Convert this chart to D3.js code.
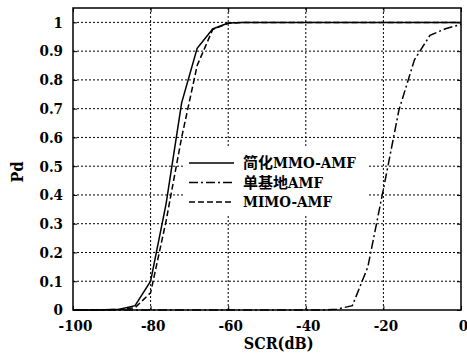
<!DOCTYPE html>
<html>
<head>
<meta charset="utf-8">
<script src="https://d3js.org/d3.v7.min.js"></script>
<style>
  body { margin: 0; background: #fff; }
  svg text { font-stretch: condensed; }
</style>
</head>
<body>
<div id="chart"></div>
<script>
// SCR grid (dB) shared by all three curves
const scr = [-100, -96, -92, -88, -84, -80, -76, -72, -68, -64, -60, -56, -52,
             -48, -44, -40, -36, -32, -28, -24, -20, -16, -12, -8, -4, 0];

// Pd values
const pdSimplified = [0, 0, 0.001, 0.003, 0.015, 0.1, 0.37, 0.72, 0.91, 0.977, 0.998, 1, 1,
                      1, 1, 1, 1, 1, 1, 1, 1, 1, 1, 1, 1, 1];
const pdMono = [0, 0, 0, 0, 0, 0, 0, 0, 0, 0, 0, 0, 0,
                0, 0, 0, 0, 0.003, 0.015, 0.15, 0.42, 0.695, 0.87, 0.955, 0.978, 0.993];
const pdMimo = [0, 0, 0, 0.002, 0.008, 0.06, 0.31, 0.6, 0.85, 0.975, 0.997, 1, 1,
                1, 1, 1, 1, 1, 1, 1, 1, 1, 1, 1, 1, 1];

const seriesNames = ["简化MMO-AMF", "单基地AMF", "MIMO-AMF"];
const xTicks = [-100, -80, -60, -40, -20, 0];
const yTicks = [0, 0.1, 0.2, 0.3, 0.4, 0.5, 0.6, 0.7, 0.8, 0.9, 1];

const margin = { top: 8, right: 6, bottom: 45, left: 73 };
const width = 467 - margin.left - margin.right;
const height = 355 - margin.top - margin.bottom;
const font = "\"DejaVu Serif Condensed\", \"DejaVu Serif\", \"Noto Sans CJK SC\", serif";

const svg = d3.select("#chart")
    .append("svg")
    .attr("width", width + margin.left + margin.right)
    .attr("height", height + margin.top + margin.bottom)
    .append("g")
    .attr("transform", "translate(" + margin.left + "," + margin.top + ")");

const x = d3.scaleLinear().domain([-100, 0]).range([0, width]);
const y = d3.scaleLinear().domain([0, 1.05]).range([height, 0]);

// dotted grid
svg.append("g")
    .selectAll("line")
    .data(xTicks.slice(1, -1))
    .enter().append("line")
    .attr("x1", d => x(d)).attr("x2", d => x(d))
    .attr("y1", 0).attr("y2", height)
    .attr("stroke", "#000").attr("stroke-width", 1)
    .attr("stroke-dasharray", "2,2");

svg.append("g")
    .selectAll("line")
    .data(yTicks.slice(1))
    .enter().append("line")
    .attr("x1", 0).attr("x2", width)
    .attr("y1", d => y(d)).attr("y2", d => y(d))
    .attr("stroke", "#000").attr("stroke-width", 1)
    .attr("stroke-dasharray", "2,2");

// axes with inward ticks
function styleAxis(g) {
    g.attr("font-family", null).attr("font-size", null);
    g.select(".domain").remove();
    g.selectAll(".tick line").attr("stroke", "#000").attr("stroke-width", 1);
    g.selectAll("text")
        .style("font-family", font)
        .style("font-size", "15px")
        .style("font-weight", "bold")
        .attr("fill", "#000");
}

svg.append("g")
    .attr("transform", "translate(0," + height + ")")
    .call(d3.axisBottom(x).tickValues(xTicks).tickFormat(d => String(d))
        .tickSizeInner(-4).tickSizeOuter(0).tickPadding(10))
    .call(styleAxis)
    .selectAll("text").attr("dx", 2);

svg.append("g")
    .call(d3.axisLeft(y).tickValues(yTicks).tickFormat(d => String(d))
        .tickSizeInner(-4).tickSizeOuter(0).tickPadding(10))
    .call(styleAxis);

svg.append("g")
    .attr("transform", "translate(" + width + ",0)")
    .call(d3.axisRight(y).tickValues(yTicks).tickFormat("").tickSizeInner(-4).tickSizeOuter(0))
    .call(styleAxis);

svg.append("g")
    .call(d3.axisTop(x).tickValues(xTicks).tickFormat("").tickSizeInner(-4).tickSizeOuter(0))
    .call(styleAxis);

// curves
const line = d3.line()
    .x((d, i) => x(scr[i]))
    .y(d => y(d));

const styles = [
    { data: pdSimplified, dash: null },
    { data: pdMono, dash: "9,3,2,3" },
    { data: pdMimo, dash: "6,3" }
];

styles.forEach(function(s) {
    svg.append("path")
        .datum(s.data)
        .attr("fill", "none")
        .attr("stroke", "#000")
        .attr("stroke-width", 1.5)
        .attr("stroke-dasharray", s.dash)
        .attr("d", line);
});

// frame
svg.append("rect")
    .attr("x", 0).attr("y", 0)
    .attr("width", width).attr("height", height)
    .attr("fill", "none")
    .attr("stroke", "#000")
    .attr("stroke-width", 1.5);

// legend (white box, no border)
const legend = svg.append("g")
    .attr("transform", "translate(112,138)");

legend.append("rect")
    .attr("x", 0).attr("y", 0)
    .attr("width", 183).attr("height", 68)
    .attr("fill", "#fff");

styles.forEach(function(s, i) {
    const ly = 17 + i * 19.5;
    legend.append("line")
        .attr("x1", 4).attr("x2", 49)
        .attr("y1", ly).attr("y2", ly)
        .attr("stroke", "#000")
        .attr("stroke-width", 1.5)
        .attr("stroke-dasharray", s.dash);
    legend.append("text")
        .attr("x", 58).attr("y", ly)
        .attr("dy", "0.35em")
        .style("font-family", font)
        .style("font-size", "15px")
        .style("font-weight", "bold")
        .text(seriesNames[i]);
});

// axis labels
svg.append("text")
    .attr("x", x(-47))
    .attr("y", height + margin.bottom - 6)
    .attr("text-anchor", "middle")
    .style("font-family", font)
    .style("font-size", "16px")
    .style("font-weight", "bold")
    .text("SCR(dB)");

svg.append("text")
    .attr("transform", "rotate(-90)")
    .attr("x", -164)
    .attr("y", -50)
    .attr("text-anchor", "middle")
    .style("font-family", font)
    .style("font-size", "16px")
    .style("font-weight", "bold")
    .text("Pd");
</script>
</body>
</html>
